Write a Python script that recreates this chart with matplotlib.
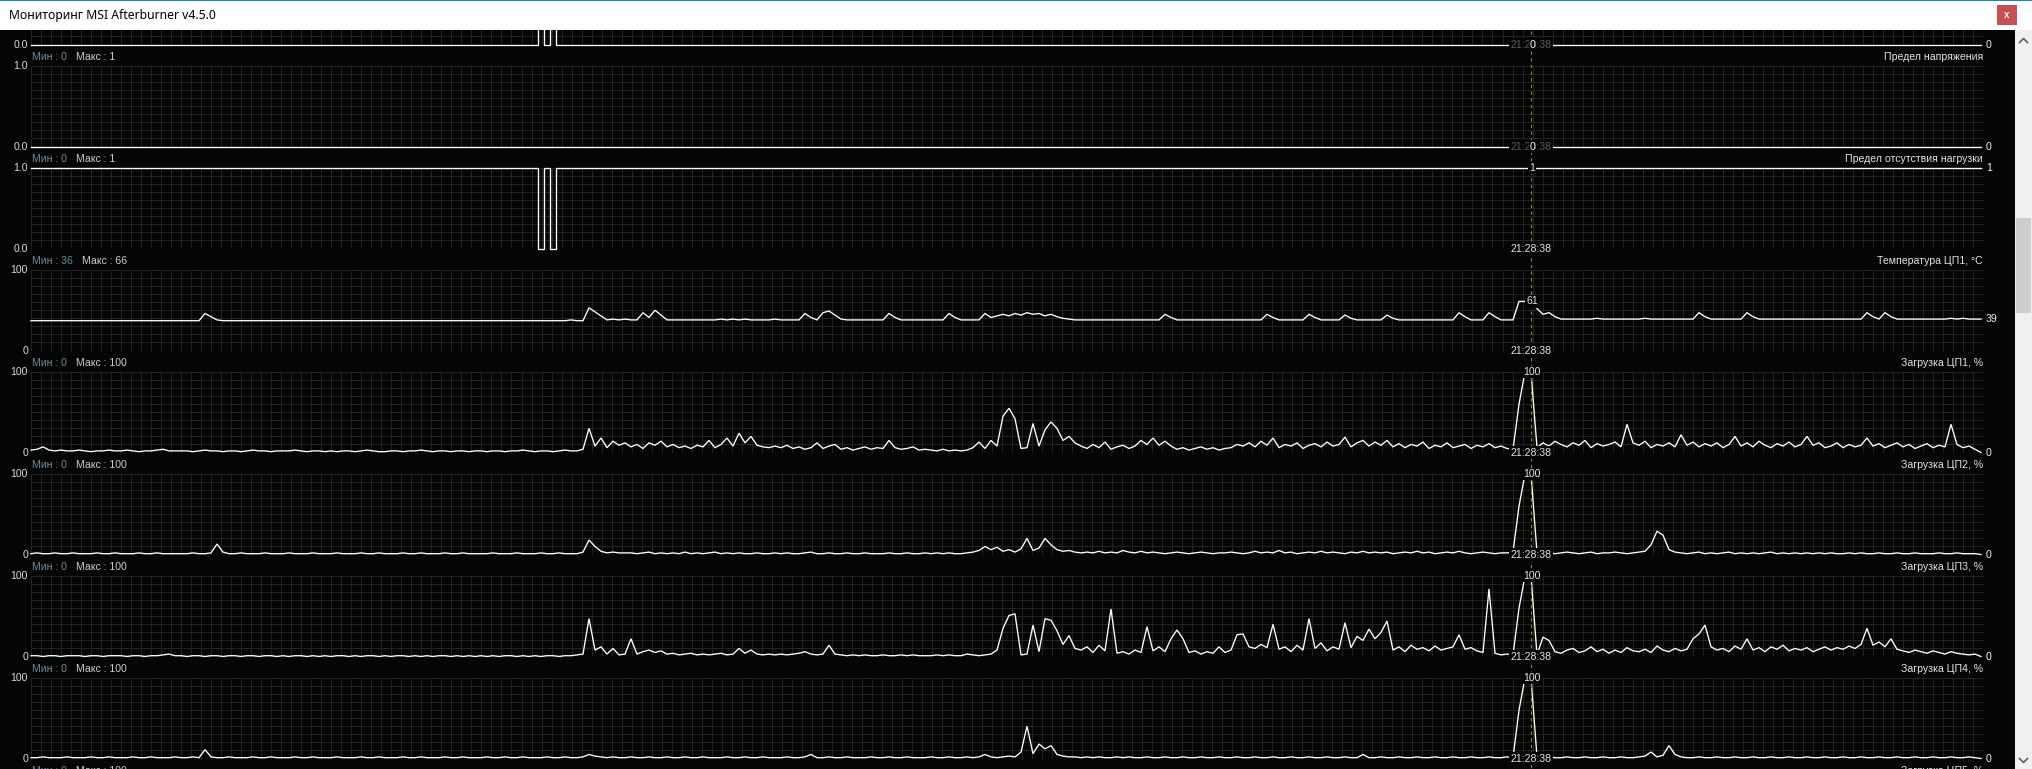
import matplotlib
matplotlib.use("Agg")
import matplotlib.pyplot as plt
import numpy as np
from matplotlib.patches import Rectangle
from matplotlib.lines import Line2D

plt.rcParams['font.family'] = ['Liberation Sans', 'DejaVu Sans']

# ------------------------------------------------------------------ data
window_title = "Мониторинг MSI Afterburner v4.5.0"
cursor_time = "21:28:38"
cursor_index = 250

# limit flags as run-lengths: (number of samples, value)
power_limit_runs = [(85, 0), (1, 1), (1, 0), (1, 1), (238, 0)]
voltage_limit_runs = [(326, 0)]
noload_limit_runs = [(85, 1), (1, 0), (1, 1), (1, 0), (238, 1)]

cpu_temp = (
    [37, 37, 37, 37, 37, 37, 37, 37, 37, 37, 37, 37, 37, 37, 37, 37, 37, 37, 37, 37, 37, 37, 37, 37, 37]
    + [37, 37, 37, 37, 46, 42, 38, 37, 37, 37, 37, 37, 37, 37, 37, 37, 37, 37, 37, 37, 37, 37, 37, 37, 37]
    + [37, 37, 37, 37, 37, 37, 37, 37, 37, 37, 37, 37, 37, 37, 37, 37, 37, 37, 37, 37, 37, 37, 37, 37, 37]
    + [37, 37, 37, 37, 37, 37, 37, 37, 37, 37, 37, 37, 37, 37, 37, 38, 37, 37, 53, 48, 43, 38, 39, 38, 39]
    + [38, 38, 47, 41, 50, 44, 38, 38, 38, 38, 38, 38, 38, 38, 38, 39, 38, 39, 38, 39, 38, 38, 38, 38, 39]
    + [38, 38, 38, 38, 46, 41, 38, 47, 49, 44, 39, 38, 38, 38, 38, 38, 38, 38, 46, 41, 38, 38, 38, 38, 38]
    + [38, 38, 38, 46, 41, 38, 38, 38, 38, 46, 41, 43, 45, 43, 46, 44, 47, 45, 46, 43, 45, 42, 40, 39, 38]
    + [38, 38, 38, 38, 38, 38, 38, 38, 38, 38, 38, 38, 38, 38, 45, 41, 38, 38, 38, 38, 38, 38, 38, 38, 38]
    + [38, 38, 38, 38, 38, 38, 45, 41, 38, 38, 38, 38, 38, 45, 41, 38, 38, 38, 38, 44, 40, 38, 38, 38, 38]
    + [38, 44, 40, 38, 38, 38, 38, 38, 38, 38, 38, 38, 38, 47, 42, 38, 38, 38, 47, 42, 38, 38, 38, 61, 61]
    + [61, 52, 45, 47, 42, 39, 39, 39, 39, 39, 39, 40, 39, 39, 39, 39, 39, 39, 39, 40, 39, 39, 39, 39, 39]
    + [39, 39, 39, 47, 42, 39, 39, 39, 39, 39, 39, 47, 42, 39, 39, 39, 39, 39, 39, 39, 39, 39, 39, 39, 39]
    + [39, 39, 39, 39, 39, 39, 47, 42, 39, 47, 42, 39, 39, 39, 39, 39, 39, 39, 39, 39, 40, 39, 40, 39, 39, 39]
)

cpu1_load = (
    [3, 4, 7, 3, 2, 3, 2, 2, 3, 2, 1, 2, 2, 3, 2, 2, 3, 2, 1, 2, 2, 3, 4, 2, 2]
    + [2, 2, 1, 2, 3, 2, 2, 1, 2, 2, 1, 2, 3, 2, 2, 1, 2, 2, 2, 3, 2, 1, 2, 2, 1]
    + [2, 1, 2, 2, 1, 2, 3, 2, 1, 1, 2, 2, 1, 2, 2, 3, 2, 1, 2, 2, 1, 2, 2, 1, 2]
    + [2, 1, 2, 2, 1, 2, 2, 3, 2, 1, 2, 2, 1, 2, 3, 2, 2, 4, 30, 8, 18, 6, 14, 9, 12]
    + [7, 10, 5, 12, 9, 14, 7, 10, 6, 8, 5, 9, 7, 15, 6, 10, 18, 8, 24, 12, 20, 9, 7, 6, 8]
    + [6, 9, 5, 7, 4, 6, 12, 5, 8, 10, 4, 6, 3, 5, 7, 4, 6, 5, 15, 6, 4, 5, 7, 3, 4]
    + [3, 2, 4, 2, 3, 2, 3, 6, 13, 5, 15, 8, 45, 55, 42, 5, 6, 36, 8, 28, 38, 30, 15, 20, 12]
    + [8, 5, 10, 6, 13, 4, 7, 9, 5, 8, 15, 10, 18, 9, 14, 8, 4, 6, 3, 5, 7, 4, 6, 3, 5]
    + [6, 10, 8, 12, 7, 14, 9, 18, 6, 10, 8, 12, 5, 9, 11, 7, 13, 8, 10, 19, 7, 12, 15, 8, 13]
    + [9, 15, 7, 11, 6, 10, 8, 13, 5, 9, 7, 12, 6, 8, 10, 5, 9, 7, 11, 6, 8, 5, 4, 60, 100]
    + [100, 6, 12, 8, 14, 10, 7, 12, 9, 15, 6, 11, 8, 10, 13, 7, 35, 12, 9, 14, 6, 10, 8, 12, 7]
    + [22, 9, 13, 7, 11, 8, 12, 6, 10, 20, 8, 12, 7, 14, 9, 6, 11, 8, 13, 7, 10, 20, 9, 12, 6]
    + [8, 12, 6, 10, 7, 9, 18, 8, 11, 6, 9, 12, 7, 10, 5, 8, 11, 6, 9, 7, 35, 10, 6, 8, 4, 0]
)

cpu2_load = (
    [1, 2, 1, 1, 2, 1, 1, 2, 1, 1, 1, 2, 1, 1, 2, 1, 1, 1, 2, 1, 1, 2, 1, 1, 1]
    + [1, 1, 2, 1, 1, 2, 13, 3, 1, 1, 2, 1, 1, 1, 2, 1, 1, 1, 2, 1, 1, 1, 2, 1, 1]
    + [1, 2, 1, 1, 1, 2, 1, 1, 2, 1, 1, 1, 2, 1, 1, 2, 1, 1, 1, 2, 1, 1, 2, 1, 1]
    + [1, 1, 2, 1, 1, 1, 2, 1, 1, 1, 2, 1, 1, 2, 1, 1, 1, 3, 18, 10, 4, 2, 3, 2, 2]
    + [2, 1, 2, 3, 1, 2, 1, 2, 1, 3, 1, 2, 1, 2, 3, 1, 2, 1, 2, 1, 1, 2, 1, 1, 2]
    + [1, 2, 1, 1, 2, 3, 1, 1, 2, 1, 1, 2, 1, 1, 2, 1, 1, 1, 2, 1, 1, 2, 1, 1, 2]
    + [1, 2, 1, 2, 1, 1, 2, 3, 5, 10, 6, 9, 4, 6, 3, 7, 20, 5, 8, 20, 12, 6, 4, 5, 3]
    + [2, 3, 2, 4, 2, 3, 2, 5, 3, 2, 4, 2, 3, 2, 1, 2, 3, 2, 1, 2, 3, 2, 1, 2, 2]
    + [3, 2, 1, 2, 4, 2, 3, 2, 5, 2, 3, 1, 2, 3, 2, 4, 2, 3, 2, 1, 3, 2, 4, 2, 3]
    + [2, 3, 1, 2, 3, 2, 4, 2, 3, 1, 2, 3, 2, 4, 2, 1, 2, 3, 2, 1, 2, 2, 3, 60, 100]
    + [100, 2, 3, 2, 1, 2, 3, 2, 1, 2, 3, 1, 2, 2, 3, 2, 1, 2, 3, 4, 12, 29, 24, 6, 3]
    + [2, 1, 2, 3, 1, 2, 1, 2, 3, 1, 2, 1, 2, 1, 2, 3, 1, 2, 1, 2, 1, 2, 1, 2, 1]
    + [2, 1, 1, 2, 1, 2, 1, 1, 2, 1, 1, 2, 1, 1, 2, 1, 1, 1, 2, 1, 1, 2, 1, 1, 1, 0]
)

cpu3_load = (
    [1, 1, 0, 1, 1, 0, 1, 1, 1, 0, 1, 1, 0, 1, 1, 1, 0, 1, 1, 0, 1, 1, 2, 3, 1]
    + [1, 0, 1, 1, 0, 1, 1, 0, 1, 1, 0, 1, 1, 0, 1, 1, 0, 1, 0, 1, 1, 0, 1, 0, 1]
    + [0, 1, 1, 0, 1, 0, 1, 1, 0, 1, 0, 1, 1, 0, 1, 0, 1, 0, 1, 1, 0, 1, 0, 1, 0]
    + [1, 0, 1, 0, 1, 1, 0, 1, 0, 1, 0, 1, 1, 0, 1, 1, 2, 3, 47, 8, 12, 3, 10, 2, 3]
    + [22, 3, 6, 8, 5, 7, 3, 4, 2, 3, 4, 2, 3, 2, 3, 4, 2, 3, 10, 4, 8, 3, 2, 3, 2]
    + [3, 2, 3, 4, 6, 3, 2, 3, 14, 3, 2, 1, 2, 1, 2, 1, 1, 2, 1, 1, 2, 1, 2, 1, 1]
    + [1, 2, 1, 2, 1, 1, 3, 2, 1, 2, 3, 8, 35, 51, 53, 2, 3, 39, 6, 47, 45, 32, 15, 26, 10]
    + [8, 12, 5, 14, 7, 59, 4, 6, 3, 8, 5, 37, 7, 12, 6, 22, 33, 22, 5, 7, 3, 6, 4, 12, 5]
    + [8, 27, 28, 12, 10, 15, 11, 40, 9, 12, 6, 14, 8, 47, 10, 17, 7, 12, 9, 42, 11, 25, 20, 34, 22]
    + [30, 44, 8, 12, 6, 14, 9, 11, 7, 13, 8, 10, 12, 27, 9, 11, 7, 5, 84, 4, 2, 3, 2, 60, 100]
    + [100, 2, 24, 20, 6, 4, 8, 10, 5, 7, 12, 6, 9, 4, 8, 5, 11, 7, 6, 9, 5, 13, 8, 6, 10]
    + [7, 9, 22, 28, 39, 12, 8, 10, 6, 13, 9, 22, 8, 11, 6, 12, 9, 14, 7, 10, 8, 11, 6, 9, 12]
    + [8, 11, 9, 13, 10, 15, 35, 14, 18, 12, 22, 9, 7, 5, 8, 6, 4, 7, 5, 3, 6, 4, 3, 2, 3, 0]
)

cpu4_load = (
    [1, 1, 2, 1, 1, 1, 2, 1, 1, 1, 2, 1, 1, 2, 1, 1, 1, 2, 1, 1, 2, 1, 1, 1, 2]
    + [1, 1, 2, 1, 11, 2, 1, 1, 2, 1, 1, 1, 2, 1, 1, 2, 1, 1, 1, 2, 1, 1, 2, 1, 1]
    + [1, 2, 1, 1, 1, 2, 1, 1, 2, 1, 1, 1, 2, 1, 1, 2, 1, 1, 1, 2, 1, 1, 2, 1, 1]
    + [1, 2, 1, 1, 2, 1, 1, 2, 1, 1, 1, 2, 1, 1, 2, 1, 1, 2, 5, 3, 2, 1, 2, 1, 1]
    + [2, 1, 1, 2, 1, 1, 2, 1, 1, 2, 1, 1, 2, 1, 1, 1, 2, 1, 1, 2, 1, 1, 2, 1, 1]
    + [1, 2, 1, 1, 2, 5, 1, 1, 2, 1, 1, 2, 1, 1, 1, 2, 1, 1, 2, 1, 1, 2, 1, 1, 1]
    + [2, 1, 1, 2, 1, 1, 2, 1, 2, 5, 2, 1, 2, 3, 2, 8, 40, 6, 18, 12, 16, 5, 3, 2, 2]
    + [1, 2, 1, 2, 1, 1, 2, 1, 2, 1, 1, 2, 1, 1, 2, 1, 1, 2, 1, 1, 2, 1, 1, 2, 1]
    + [1, 2, 1, 1, 2, 1, 1, 2, 1, 1, 2, 1, 1, 2, 1, 1, 2, 1, 1, 2, 1, 1, 5, 1, 1]
    + [2, 1, 1, 2, 1, 1, 2, 1, 1, 2, 1, 1, 2, 1, 1, 2, 1, 1, 2, 1, 1, 2, 1, 60, 100]
    + [100, 2, 1, 2, 1, 1, 2, 1, 1, 2, 1, 1, 2, 1, 1, 2, 1, 1, 2, 3, 8, 2, 4, 16, 5]
    + [2, 1, 1, 2, 1, 1, 2, 1, 1, 2, 1, 1, 2, 1, 1, 2, 1, 1, 2, 1, 1, 2, 1, 1, 2]
    + [1, 1, 2, 1, 1, 2, 1, 1, 2, 1, 1, 2, 1, 1, 2, 1, 1, 2, 1, 1, 2, 1, 1, 2, 1, 0]
)

panel_titles = [None, "Предел напряжения", "Предел отсутствия нагрузки",
                "Температура ЦП1, °C", "Загрузка ЦП1, %", "Загрузка ЦП2, %",
                "Загрузка ЦП3, %", "Загрузка ЦП4, %", "Загрузка ЦП5, %"]
panel_min = [None, 0, 0, 36, 0, 0, 0, 0, 0]
panel_max = [None, 1, 1, 66, 100, 100, 100, 100, 100]
panel_range = [(0, 1), (0, 1), (0, 1), (0, 100), (0, 100), (0, 100), (0, 100), (0, 100), (0, 100)]
panel_ticks = [("1.0", "0.0"), ("1.0", "0.0"), ("1.0", "0.0"), ("100", "0"), ("100", "0"),
               ("100", "0"), ("100", "0"), ("100", "0"), ("100", "0")]


def from_runs(runs):
    return np.concatenate([np.full(n, v, dtype=float) for n, v in runs])


series = [from_runs(power_limit_runs), from_runs(voltage_limit_runs), from_runs(noload_limit_runs),
          np.array(cpu_temp, float), np.array(cpu1_load, float), np.array(cpu2_load, float),
          np.array(cpu3_load, float), np.array(cpu4_load, float), None]
is_flag = [True, True, True, False, False, False, False, False, False]

# ------------------------------------------------------------------ style / layout
W, H = 2032, 769
BG = "#050505"
GRID = "#232323"
LINE = "#ffffff"
CUR = "#8c8c28"
MINC = "#6f8c9c"
MAXC = "#c4cfd8"
TXT = "#e4e4e4"
FS = 7.6
TITLEBAR_H = 29.5

GX0, GW = 31, 1952          # graph area in pixels
PX_PER_SAMPLE = 6.0
TOP0, PERIOD, PH = -36, 102, 80.5

fig = plt.figure(figsize=(W / 100, H / 100), dpi=100)
fig.patch.set_facecolor(BG)


def fy(py):
    return 1 - py / H


def ftext(x, y, s, **kw):
    kw.setdefault("fontsize", FS)
    kw.setdefault("color", TXT)
    return fig.text(x / W, fy(y), s, **kw)


renderer = fig.canvas.get_renderer()
xmax = GW / PX_PER_SAMPLE
cursor_px = GX0 + cursor_index * PX_PER_SAMPLE

for k in range(9):
    top = TOP0 + PERIOD * k
    bot = top + PH
    lo, hi = panel_range[k]
    if top < H:
        ax = fig.add_axes([GX0 / W, 1 - bot / H, GW / W, PH / H])
        ax.set_facecolor(BG)
        ax.set_xlim(0, xmax)
        ax.set_ylim(lo, hi)
        ax.set_xticks([])
        ax.set_yticks([])
        for s in ax.spines.values():
            s.set_visible(False)
        ax.vlines(np.linspace(0, xmax, 196), lo, hi, colors=GRID, lw=0.55,
                  antialiased=False, zorder=1)
        ax.hlines(np.linspace(lo, hi, 11), 0, xmax, colors=GRID, lw=0.55,
                  antialiased=False, zorder=1)
        data = series[k]
        if data is not None:
            x = np.arange(len(data))
            ax.plot(x, data, color=LINE, lw=0.95, clip_on=False, zorder=3,
                    drawstyle="steps-mid" if is_flag[k] else "default",
                    solid_joinstyle="miter")
            # left tick labels (only those below the title bar)
            if top > TITLEBAR_H:
                ftext(28, top, panel_ticks[k][0], ha="right", va="center", color="#d8d8d8")
            ftext(28, bot, panel_ticks[k][1], ha="right", va="center", color="#d8d8d8")
            # current value at right
            last = data[-1]
            ylast = bot - (last - lo) / (hi - lo) * PH
            ftext(1986, ylast, f"{int(round(last))}", ha="left", va="center", color="#eef0ff")
            # cursor value and time
            cv = data[cursor_index]
            ycv = bot - (cv - lo) / (hi - lo) * PH
            box = dict(boxstyle="square,pad=0.12", fc=BG, ec="none")
            if cv == lo:
                ftext(cursor_px, bot, cursor_time, ha="center", va="center",
                      color="#5a5a5a", bbox=box, zorder=6)
                ftext(cursor_px + 1, bot, f"{int(round(cv))}", ha="center", va="center",
                      color="#f4f6ff", bbox=dict(boxstyle="square,pad=0.05", fc=BG, ec="none"),
                      zorder=7)
            else:
                ftext(cursor_px, bot, cursor_time, ha="center", va="center",
                      bbox=box, zorder=6)
                ftext(cursor_px + 1, ycv, f"{int(round(cv))}", ha="center", va="center",
                      bbox=box, zorder=7)
    # label row above the panel
    if panel_titles[k] is not None:
        yl = top - 9
        t1 = ftext(32, yl, f"Мин : {panel_min[k]}", ha="left", va="center", color=MINC)
        bb = t1.get_window_extent(renderer)
        ftext(bb.x1 + 9, yl, f"Макс : {panel_max[k]}", ha="left", va="center", color=MAXC)
        ftext(1983, yl, panel_titles[k], ha="right", va="center")

# cursor line
fig.add_artist(Line2D([cursor_px / W] * 2, [fy(31), fy(H)], color=CUR, lw=0.8,
                      linestyle=(0, (3, 3)), zorder=2))

# ------------------------------------------------------------------ window chrome
fig.add_artist(Rectangle((0, fy(TITLEBAR_H)), 1, TITLEBAR_H / H, transform=fig.transFigure,
                         fc="white", ec="none", zorder=10))
fig.add_artist(Rectangle((0, fy(1)), 1, 1 / H, transform=fig.transFigure,
                         fc="#1883d7", ec="none", zorder=11))
fig.text(9 / W, fy(15), window_title, fontsize=8.8, color="#000000",
         family=["Noto Sans", "DejaVu Sans"], ha="left", va="center", zorder=12)
fig.add_artist(Rectangle((1997 / W, fy(25)), 20 / W, 20 / H, transform=fig.transFigure,
                         fc="#c75050", ec="none", zorder=11))
fig.text(2007 / W, fy(15.5), "x", fontsize=7, color="white", weight="bold",
         ha="center", va="center", zorder=12)

# scrollbar
fig.add_artist(Rectangle((2015 / W, 0), 17 / W, fy(TITLEBAR_H), transform=fig.transFigure,
                         fc="#f0f0f0", ec="none", zorder=10))
fig.add_artist(Rectangle((2016 / W, fy(313)), 15 / W, 95 / H, transform=fig.transFigure,
                         fc="#cdcdcd", ec="none", zorder=11))
fig.add_artist(Line2D([2019.5 / W, 2023.5 / W, 2027.5 / W], [fy(42.5), fy(38.5), fy(42.5)],
                      color="#606060", lw=1.2, zorder=12))
fig.add_artist(Line2D([2019.5 / W, 2023.5 / W, 2027.5 / W], [fy(758.5), fy(762.5), fy(758.5)],
                      color="#606060", lw=1.2, zorder=12))

fig.savefig("out.png", dpi=100, facecolor=fig.get_facecolor())
